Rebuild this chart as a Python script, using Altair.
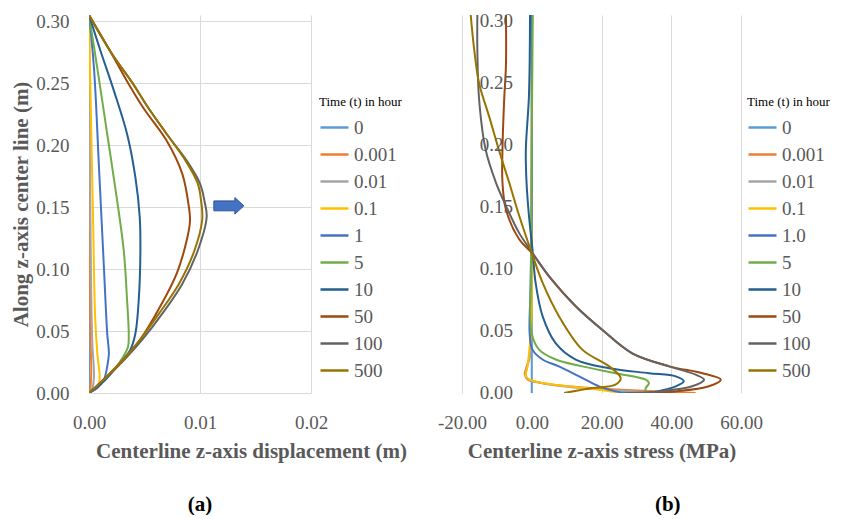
import altair as alt
import pandas as pd

FONT = "Liberation Serif"
GRAY = "#595959"

SERIES_A = ["0", "0.001", "0.01", "0.1", "1", "5", "10", "50", "100", "500"]
SERIES_B = ["0", "0.001", "0.01", "0.1", "1.0", "5", "10", "50", "100", "500"]
COLORS = ["#5B9BD5", "#ED7D31", "#A5A5A5", "#FFC000", "#4472C4",
          "#70AD47", "#255E91", "#9E480E", "#636363", "#997300"]
Y_TICKS = [0.0, 0.05, 0.10, 0.15, 0.20, 0.25, 0.30]
XA_TICKS = [0.0, 0.01, 0.02]
XB_TICKS = [-20, 0, 20, 40, 60]

# (a) centerline z-axis displacement (m) vs position along z-axis (m)
DISP_0 = [(0, 0), (0, 0.305)]
DISP_0001 = [(0, 0), (0.0001, 0.0027), (0.0002, 0.016), (0.00012, 0.05), (0.00006, 0.15), (0, 0.305)]
DISP_001 = [(0, 0), (0.0003, 0.004), (0.00045, 0.0134), (0.0003, 0.04), (0.0002, 0.08), (0.00009, 0.18), (0, 0.305)]
DISP_01 = [(0, 0), (0.00045, 0.003), (0.0009, 0.008), (0.00096, 0.0134), (0.00075, 0.032), (0.00055, 0.062),
           (0.00039, 0.129), (0.00015, 0.236), (0, 0.305)]
DISP_1 = [(0, 0), (0.00075, 0.004), (0.00134, 0.0107), (0.00164, 0.0214), (0.00179, 0.032), (0.00164, 0.048),
          (0.00134, 0.102), (0.0009, 0.182), (0.00045, 0.262), (0, 0.305)]
DISP_5 = [(0, 0), (0.00104, 0.008), (0.00224, 0.0188), (0.0031, 0.0295), (0.00352, 0.0375), (0.00358, 0.048),
          (0.00343, 0.075), (0.00313, 0.115), (0.00254, 0.155), (0.00164, 0.209), (0.00075, 0.262), (0, 0.305)]
DISP_10 = [(0, 0), (0.00134, 0.0094), (0.00254, 0.0214), (0.00373, 0.035), (0.00418, 0.048), (0.00448, 0.075),
           (0.00463, 0.115), (0.00457, 0.142), (0.00418, 0.174), (0.00343, 0.209), (0.00224, 0.244),
           (0.00104, 0.276), (0, 0.305)]
DISP_50 = [(0, 0), (0.0016, 0.0134), (0.0031, 0.027), (0.0046, 0.043), (0.0064, 0.0696), (0.0079, 0.0964),
           (0.0088, 0.123), (0.0091, 0.139), (0.0090, 0.150), (0.0084, 0.177), (0.0070, 0.2036), (0.0049, 0.230),
           (0.0034, 0.252), (0.0019, 0.276), (0, 0.305)]
DISP_100 = [(0, 0), (0.0016, 0.013), (0.0032, 0.027), (0.0048, 0.043), (0.0066, 0.064), (0.0084, 0.088),
            (0.0098, 0.115), (0.0106, 0.142), (0.0104, 0.155), (0.0100, 0.169), (0.0088, 0.1875), (0.0070, 0.209),
            (0.0052, 0.232), (0.0040, 0.249), (0.0019, 0.276), (0, 0.305)]
DISP_500 = [(0, 0), (0.0016, 0.013), (0.0031, 0.027), (0.0046, 0.043), (0.0063, 0.064), (0.0081, 0.088),
            (0.0095, 0.115), (0.0102, 0.140), (0.0101, 0.155), (0.0098, 0.169), (0.0087, 0.1875), (0.0070, 0.209),
            (0.0052, 0.232), (0.0040, 0.249), (0.0019, 0.276), (0, 0.305)]

# (b) centerline z-axis stress (MPa) vs position along z-axis (m)
STRESS_0 = [(0, 0), (0, 0.305)]
STRESS_0001 = [(47, 0), (30, 0.002), (12, 0.005), (2, 0.0085), (-1.2, 0.011), (-2.0, 0.015), (-1.6, 0.02),
               (-0.6, 0.03), (-0.2, 0.05), (0, 0.1), (0, 0.305)]
STRESS_001 = [(37, 0), (25, 0.002), (10, 0.005), (2, 0.0085), (-1.0, 0.011), (-1.8, 0.015), (-1.4, 0.02),
              (-0.5, 0.03), (-0.2, 0.05), (0, 0.1), (0, 0.305)]
STRESS_01 = [(26, 0), (19.3, 0.0027), (10.7, 0.0054), (3.1, 0.008), (-0.6, 0.0108), (-1.7, 0.0134),
             (-1.2, 0.0215), (-0.6, 0.0377), (-0.2, 0.05), (0, 0.1), (0, 0.305)]
STRESS_1 = [(28, 0), (24, 0.0013), (19.3, 0.0054), (13.6, 0.0134), (7.8, 0.0215), (3.1, 0.027), (0.2, 0.035),
            (-0.6, 0.048), (-0.4, 0.08), (0, 0.15), (0, 0.305)]
STRESS_5 = [(32.5, 0), (32.7, 0.004), (33.6, 0.008), (32.7, 0.0108), (24, 0.016), (14.5, 0.0215), (6.9, 0.027),
            (2.1, 0.035), (0, 0.048), (-0.2, 0.1), (0, 0.2), (0.3, 0.305)]
STRESS_10 = [(33.6, 0), (41.3, 0.0054), (43.6, 0.0094), (41.3, 0.0134), (33.6, 0.016), (22.2, 0.020),
             (12.6, 0.027), (6.9, 0.040), (3.1, 0.062), (1.1, 0.089), (0.2, 0.116), (-0.8, 0.143), (-1.5, 0.17),
             (-1.7, 0.196), (-0.8, 0.24), (-0.5, 0.305)]
STRESS_50 = [(31.7, 0), (41.3, 0.0013), (50.8, 0.0054), (54.2, 0.0108), (48.9, 0.016), (39.4, 0.0215),
             (28.8, 0.032), (20.2, 0.051), (12.6, 0.070), (5, 0.094), (0, 0.113), (-3.6, 0.124), (-7.4, 0.148),
             (-8.4, 0.17), (-8.4, 0.196), (-7.9, 0.237), (-7.4, 0.264), (-7.4, 0.305)]
STRESS_100 = [(27, 0), (36.5, 0.0013), (46, 0.0054), (49.4, 0.0108), (47, 0.0148), (39.4, 0.0215),
              (28.8, 0.032), (20.2, 0.051), (12.6, 0.070), (5, 0.094), (0, 0.114), (-3.6, 0.129), (-7.4, 0.151),
              (-10.3, 0.170), (-13.2, 0.196), (-15.1, 0.237), (-15.6, 0.277), (-15.6, 0.305)]
STRESS_500 = [(9.3, 0), (17.4, 0.004), (24, 0.0067), (25.5, 0.0121), (22.2, 0.0215), (14.5, 0.035),
              (7.8, 0.062), (3.1, 0.089), (0, 0.113), (-3.6, 0.143), (-6.5, 0.17), (-9.4, 0.196),
              (-12.2, 0.223), (-15.1, 0.25), (-16.5, 0.277), (-17.5, 0.305)]

DISP = [DISP_0, DISP_0001, DISP_001, DISP_01, DISP_1, DISP_5, DISP_10, DISP_50, DISP_100, DISP_500]
STRESS = [STRESS_0, STRESS_0001, STRESS_001, STRESS_01, STRESS_1, STRESS_5, STRESS_10, STRESS_50,
          STRESS_100, STRESS_500]


def frame(labels, curves):
    rows = []
    for lab, pts in zip(labels, curves):
        for i, (x, y) in enumerate(pts):
            rows.append({"t": lab, "i": i, "x": x, "y": y})
    return pd.DataFrame(rows)


df_a = frame(SERIES_A, DISP)
df_b = frame(SERIES_B, STRESS)

yscale = alt.Scale(domain=[0, 0.305], nice=False, zero=False)

lines_a = alt.Chart(df_a).mark_line(strokeWidth=2, interpolate="catmull-rom", clip=True).encode(
    x=alt.X("x:Q", scale=alt.Scale(domain=[0, 0.02], nice=False),
            axis=alt.Axis(values=XA_TICKS, format=".2f", title="Centerline z-axis displacement (m)",
                          titleX=162)),
    y=alt.Y("y:Q", scale=yscale,
            axis=alt.Axis(values=Y_TICKS, format=".2f", title="Along z-axis center line (m)", titlePadding=4)),
    color=alt.Color("t:N", scale=alt.Scale(domain=SERIES_A, range=COLORS), sort=SERIES_A,
                    legend=alt.Legend(title="Time (t) in hour", orient="none", legendX=230, legendY=81)),
    order=alt.Order("i:Q"),
)

arrow = alt.Chart(pd.DataFrame({"k": [0]})).mark_point(
    shape="M-1,-0.33L0.4,-0.33L0.4,-0.55L1,0L0.4,0.55L0.4,0.33L-1,0.33Z",
    filled=True, fill="#4472C4", stroke="#2F528F", strokeWidth=1, opacity=1, size=900,
).encode(x=alt.datum(0.0126), y=alt.datum(0.151))

label_a = alt.Chart(pd.DataFrame({"k": [0]})).mark_text(
    text="(a)", font=FONT, fontSize=21, fontWeight="bold", color="black", baseline="middle"
).encode(x=alt.datum(0.01), y=alt.value(490))

left = alt.layer(lines_a, arrow, label_a).properties(width=222, height=378)

lines_b = alt.Chart(df_b).mark_line(strokeWidth=2, interpolate="catmull-rom", clip=True).encode(
    x=alt.X("x:Q", scale=alt.Scale(domain=[-20, 60], nice=False),
            axis=alt.Axis(values=XB_TICKS, format=".2f", title="Centerline z-axis stress (MPa)",
                          labelExpr="replace(datum.label, '\u2212', '-')")),
    y=alt.Y("y:Q", scale=yscale, axis=alt.Axis(values=Y_TICKS, labels=False, title=None)),
    color=alt.Color("t:N", scale=alt.Scale(domain=SERIES_B, range=COLORS), sort=SERIES_B,
                    legend=alt.Legend(title="Time (t) in hour", orient="none", legendX=285, legendY=81)),
    order=alt.Order("i:Q"),
)

ylab_df = pd.DataFrame({"y": Y_TICKS, "lab": [f"{v:.2f}" for v in Y_TICKS]})
ylabs_b = alt.Chart(ylab_df).mark_text(
    align="right", baseline="middle", font=FONT, fontSize=19, color=GRAY
).encode(x=alt.datum(-5.4), y=alt.Y("y:Q", scale=yscale, axis=None), text="lab:N")

label_b = alt.Chart(pd.DataFrame({"k": [0]})).mark_text(
    text="(b)", font=FONT, fontSize=21, fontWeight="bold", color="black", baseline="middle"
).encode(x=alt.datum(39), y=alt.value(490))

right = alt.layer(lines_b, ylabs_b, label_b).properties(width=279, height=378)

chart = alt.hconcat(left, right, spacing=151, bounds="flush").resolve_scale(
    color="independent", x="independent", y="independent"
).resolve_legend(color="independent").properties(
    padding={"left": 10, "top": 12, "right": 0, "bottom": 0}
).configure_view(strokeWidth=0).configure_axis(
    gridColor="#D9D9D9", gridWidth=1, domain=False, ticks=False, tickSize=0,
    labelFont=FONT, labelFontSize=19, labelColor=GRAY, labelPadding=20,
    labelFlush=False, labelOverlap=False,
    titleFont=FONT, titleFontSize=21, titleFontWeight="bold", titleColor=GRAY,
).configure_axisX(titlePadding=8).configure_legend(
    titleFont=FONT, titleFontSize=13, titleFontWeight="normal", titleColor="black", titlePadding=3,
    labelFont=FONT, labelFontSize=19, labelColor=GRAY, labelOffset=4,
    symbolType="stroke", symbolSize=784, symbolStrokeWidth=2.5, rowPadding=1,
)

chart.save("out.html", embed_options={"renderer": "svg", "actions": False})
